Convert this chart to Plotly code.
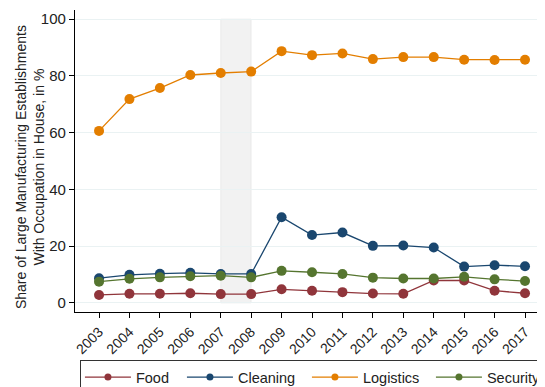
import plotly.graph_objects as go

years = list(range(2003, 2018))
food = [2.8, 3.2, 3.2, 3.4, 3.1, 3.1, 4.8, 4.3, 3.8, 3.3, 3.2, 7.9, 7.9, 4.3, 3.4]
cleaning = [8.7, 9.9, 10.3, 10.6, 10.2, 10.2, 30.2, 23.9, 24.8, 20.1, 20.2, 19.5, 12.8, 13.3, 12.9]
logistics = [60.6, 71.8, 75.7, 80.3, 81.0, 81.5, 88.7, 87.3, 87.9, 85.9, 86.6, 86.6, 85.7, 85.6, 85.7]
security = [7.5, 8.5, 9.0, 9.4, 9.6, 9.0, 11.3, 10.8, 10.2, 8.9, 8.6, 8.6, 9.2, 8.3, 7.7]

series = [
    ("Food", food, "#90353B", 41),
    ("Cleaning", cleaning, "#1A476F", 64),
    ("Logistics", logistics, "#E37E00", 63),
    ("Security", security, "#55752F", 50),
]

fig = go.Figure()
for name, vals, col, lw in series:
    fig.add_trace(go.Scatter(
        x=years, y=vals, name=name, mode="lines+markers", legendgroup=name,
        line=dict(color=col, width=1.3),
        marker=dict(color=col, size=10),
        showlegend=False,
    ))
    # legend entry with the smaller legend dot
    fig.add_trace(go.Scatter(
        x=[None], y=[None], name=name, mode="lines+markers", legendgroup=name,
        line=dict(color=col, width=1.3), marker=dict(color=col, size=7),
        legendwidth=lw,
    ))

# crisis band
fig.add_shape(type="rect", x0=2007, x1=2008, y0=0, y1=100, xref="x", yref="y",
              fillcolor="rgba(0,0,0,0.05)", line=dict(color="rgba(0,0,0,0.06)", width=1),
              layer="below")

# y title as annotation so it sits where the original has it
fig.add_annotation(text="Share of Large Manufacturing Establishments<br>With Occupation in House, in %",
                   xref="paper", yref="paper", x=-0.094, y=0.48, xanchor="center", yanchor="middle",
                   textangle=-90, showarrow=False, font=dict(size=14, color="#222"))

fig.update_layout(
    width=545, height=387,
    margin=dict(l=67, r=0, t=2, b=83, autoexpand=False),
    paper_bgcolor="white", plot_bgcolor="white",
    font=dict(family="Liberation Sans, Arial", size=14, color="#222"),
    showlegend=True,
    legend=dict(orientation="h", xref="container", yref="container",
                x=0.132, xanchor="left", y=0.09, yanchor="top",
                bordercolor="#333", borderwidth=1, font=dict(size=14.5),
                itemwidth=46),
    xaxis=dict(range=[2002.21, 2017.92], tickmode="array", tickvals=years,
               ticktext=[str(y) for y in years], tickangle=-45, automargin=False,
               showgrid=False, showline=True, linecolor="black", linewidth=1.3,
               ticks="outside", ticklen=5, tickcolor="black", zeroline=False,
               tickfont=dict(size=14)),
    yaxis=dict(range=[-3.2, 103.2], tickvals=[0, 20, 40, 60, 80, 100], automargin=False,
               showgrid=True, gridcolor="#EAF2F3", gridwidth=1,
               showline=True, linecolor="black", linewidth=1.3,
               ticks="outside", ticklen=5, tickcolor="black", zeroline=False,
               tickfont=dict(size=15)),
)

fig.write_html("out.html")
